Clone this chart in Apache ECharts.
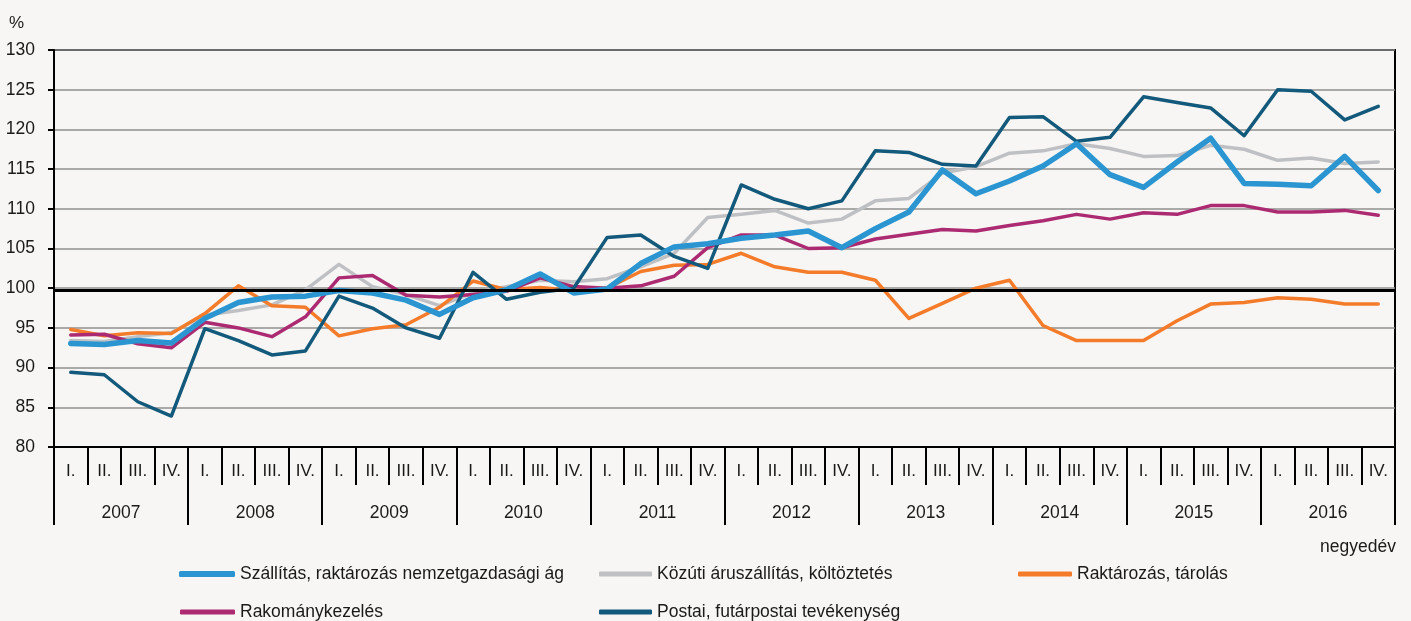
<!DOCTYPE html>
<html>
<head>
<meta charset="utf-8">
<script src="https://cdn.jsdelivr.net/npm/echarts@6/dist/echarts.min.js"></script>
<style>
html,body{margin:0;padding:0;background:#f7f6f4;}
#c{width:1411px;height:621px;}
</style>
</head>
<body>
<div id="c"></div>
<script>
const quarters = [];
const quarterNames = ['I.','II.','III.','IV.'];
const years = ['2007','2008','2009','2010','2011','2012','2013','2014','2015','2016'];
years.forEach(function(y){ quarterNames.forEach(function(q){ quarters.push(q); }); });

const yTicks = {min: 80, max: 130, interval: 5};

const nameSzallitas = 'Szállítás, raktározás nemzetgazdasági ág';
const nameKozuti = 'Közúti áruszállítás, költöztetés';
const nameRaktar = 'Raktározás, tárolás';
const nameRakomany = 'Rakománykezelés';
const namePostai = 'Postai, futárpostai tevékenység';

const szallitas = [93.05, 92.9, 93.4, 93.1, 96.2, 98.2, 98.9, 99.0, 99.7, 99.4, 98.5, 96.7,
  98.8, 99.8, 101.8, 99.4, 99.9, 103.1, 105.2, 105.6, 106.3, 106.7, 107.2, 105.1,
  107.5, 109.6, 114.9, 111.9, 113.5, 115.4, 118.2, 114.3, 112.7, 115.9, 118.9, 113.2,
  113.1, 112.9, 116.6, 112.3];
const kozuti = [93.4, 93.3, 93.9, 94.4, 96.6, 97.2, 97.9, 99.8, 103.0, 100.2, 99.2, 97.8,
  99.4, 100.2, 101.0, 100.8, 101.2, 102.7, 104.4, 108.9, 109.3, 109.8, 108.2, 108.7,
  111.0, 111.3, 114.5, 115.3, 117.0, 117.3, 118.2, 117.6, 116.6, 116.7, 118.0, 117.5,
  116.1, 116.4, 115.7, 115.9];
const raktar = [94.8, 94.0, 94.4, 94.3, 96.8, 100.3, 97.8, 97.6, 94.0, 94.9, 95.4, 97.6,
  100.9, 99.8, 100.1, 99.7, 100.0, 102.1, 102.9, 103.0, 104.4, 102.7, 102.0, 102.0,
  101.0, 96.2, 98.1, 100.0, 101.0, 95.3, 93.4, 93.4, 93.4, 95.9, 98.0, 98.2,
  98.8, 98.6, 98.0, 98.0];
const rakomany = [94.1, 94.2, 93.0, 92.5, 95.7, 95.0, 93.9, 96.4, 101.3, 101.6, 99.1, 98.9,
  99.2, 99.6, 101.3, 100.2, 100.0, 100.3, 101.5, 105.1, 106.7, 106.7, 105.0, 105.1,
  106.2, 106.8, 107.4, 107.2, 107.9, 108.5, 109.3, 108.7, 109.5, 109.3, 110.4, 110.4,
  109.6, 109.6, 109.8, 109.2];
const postai = [89.4, 89.1, 85.7, 83.9, 94.9, 93.4, 91.6, 92.1, 99.0, 97.5, 95.0, 93.7,
  102.0, 98.6, 99.5, 100.0, 106.4, 106.7, 104.0, 102.5, 113.0, 111.2, 110.0, 111.0,
  117.3, 117.1, 115.6, 115.4, 121.5, 121.6, 118.5, 119.0, 124.1, 123.4, 122.7, 119.2,
  125.0, 124.8, 121.2, 122.9];
const refLine = 99.8;

const FONT = '"Liberation Sans", Arial, sans-serif';
const TXT = '#1a1a1a';
const C_BLUE = '#2a95d0', C_GRAY = '#bfc0c3', C_ORANGE = '#f47b2a', C_MAG = '#ac2a71', C_DARK = '#12597b';

function lineSeries(name, data, color, width, extra) {
  return Object.assign({
    name: name, type: 'line', data: data, xAxisIndex: 0, yAxisIndex: 0,
    symbol: 'none', showSymbol: false, smooth: false,
    lineStyle: {color: color, width: width, join: 'round', cap: 'round'},
    itemStyle: {color: color}
  }, extra || {});
}

function legendAt(name, left, top, w, h) {
  return {
    data: [name], left: left, top: top, itemWidth: w, itemHeight: h,
    icon: 'roundRect', orient: 'horizontal', selectedMode: false,
    textStyle: {fontFamily: FONT, fontSize: 17.5, color: TXT}
  };
}

const chart = echarts.init(document.getElementById('c'), null, {renderer: 'canvas'});
chart.setOption({
  backgroundColor: '#f7f6f4',
  animation: false,
  textStyle: {fontFamily: FONT},
  grid: {left: 54, right: 16, top: 50, bottom: 174, outerBoundsMode: 'none', containLabel: false,
         show: true, borderColor: '#000', borderWidth: 2, backgroundColor: 'transparent'},
  graphic: [
    {type: 'text', left: 9, top: 15, style: {text: '%', font: '17px ' + FONT, fill: TXT}},
    {type: 'text', right: 15, top: 538, style: {text: 'negyedév', font: '17.5px ' + FONT, fill: TXT}}
  ],
  legend: [
    legendAt(nameSzallitas, 174, 560, 56, 6),
    legendAt(nameKozuti, 594, 560, 53, 5),
    legendAt(nameRaktar, 1013, 560, 54, 5),
    legendAt(nameRakomany, 175, 598, 55, 5),
    legendAt(namePostai, 594, 598, 53, 5)
  ],
  xAxis: [
    {
      type: 'category', data: quarters, position: 'bottom', boundaryGap: true,
      axisLine: {show: true, lineStyle: {color: '#000', width: 2}},
      axisTick: {show: true, interval: 0, length: 38, lineStyle: {color: '#000', width: 2}},
      axisLabel: {interval: 0, margin: 16, fontSize: 17, color: TXT, fontFamily: FONT},
      splitLine: {show: false}
    },
    {
      type: 'category', data: years, position: 'bottom', boundaryGap: true,
      axisLine: {show: false},
      axisTick: {show: true, interval: 0, length: 78, lineStyle: {color: '#000', width: 2}},
      axisLabel: {interval: 0, margin: 57, fontSize: 17.5, color: TXT, fontFamily: FONT},
      splitLine: {show: false}
    }
  ],
  yAxis: {
    type: 'value', min: yTicks.min, max: yTicks.max, interval: yTicks.interval,
    axisLine: {show: true, lineStyle: {color: '#000', width: 2}},
    axisTick: {show: true, inside: false, length: 6, lineStyle: {color: '#000', width: 2}},
    axisLabel: {margin: 19, fontSize: 17.5, color: TXT, fontFamily: FONT},
    splitLine: {show: true, lineStyle: {color: '#8f8f8f', width: 1.5}}
  },
  series: [
    lineSeries(nameKozuti, kozuti, C_GRAY, 3.5, {
      markLine: {
        silent: true, symbol: 'none', label: {show: false},
        lineStyle: {color: '#000', width: 3, type: 'solid'},
        data: [{yAxis: refLine}]
      }
    }),
    lineSeries(nameRaktar, raktar, C_ORANGE, 3.5),
    lineSeries(nameRakomany, rakomany, C_MAG, 3.5),
    lineSeries(namePostai, postai, C_DARK, 3.5),
    lineSeries(nameSzallitas, szallitas, C_BLUE, 5.5)
  ]
});
</script>
</body>
</html>
